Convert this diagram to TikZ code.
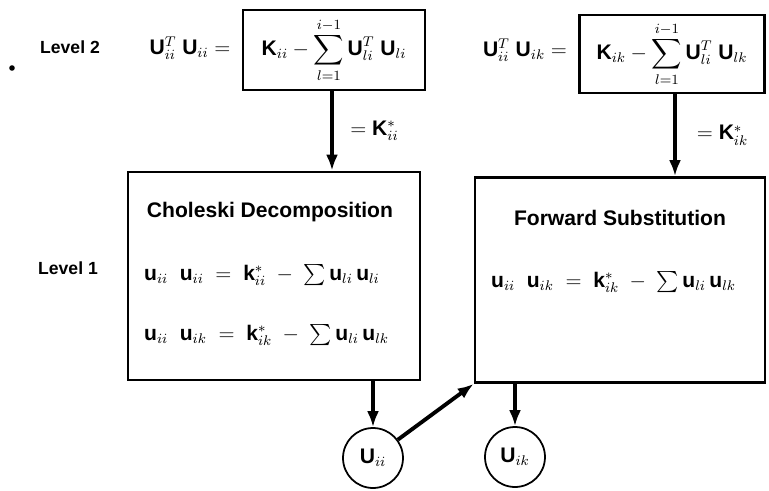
\documentclass[tikz,border=0pt]{standalone}
\usepackage{amsmath,amssymb}
\usepackage{fontspec}
\setmainfont{Liberation Sans}
\usepackage{tikz}
\usetikzlibrary{positioning,arrows.meta,calc}

\begin{document}
\begin{tikzpicture}[x=0.02cm,y=-0.02cm,font=\bfseries\large,
  blk/.style={draw,line width=1.6pt,inner sep=0pt},
  dbox/.style={draw,line width=1.4pt,inner sep=0pt},
  val/.style={draw,circle,line width=1pt,minimum size=1.2cm,inner sep=0pt},
  flow/.style={line width=2.2pt,-{Latex[length=3.2mm,width=2.4mm]}},
  lvl/.style={font=\bfseries}]
\useasboundingbox (0,0) rectangle (769,491);
% level 2
\fill (12,68) circle (2.8);
\node[lvl] (lv2) at (70,47) {Level 2};
\node (lhs1) at (190,48) {$\mathbf{U}^{T}_{ii}\;\mathbf{U}_{ii} =$};
\node[dbox,minimum width=3.64cm,minimum height=1.6cm] (k1) at (334,50)
  {$\mathbf{K}_{ii} - \displaystyle\sum_{l=1}^{i-1}\mathbf{U}^{T}_{li}\;\mathbf{U}_{li}$};
\node (lhs2) at (525,50) {$\mathbf{U}^{T}_{ii}\;\mathbf{U}_{ik} =$};
\node[dbox,minimum width=3.7cm,minimum height=1.56cm] (k2) at (672,54)
  {$\mathbf{K}_{ik} - \displaystyle\sum_{l=1}^{i-1}\mathbf{U}^{T}_{li}\;\mathbf{U}_{lk}$};
% level 1
\node[lvl] (lv1) at (68,268) {Level 1};
\node[blk,minimum width=5.84cm,minimum height=4.16cm] (chol) at (274,276) {};
\node (cholt) at (270,212) {Choleski Decomposition};
\node[anchor=west] (ch1) at (138,275) {$\mathbf{u}_{ii}\;\;\mathbf{u}_{ii} \;=\; \mathbf{k}^{*}_{ii} \;-\; \sum \mathbf{u}_{li}\,\mathbf{u}_{li}$};
\node[anchor=west] (ch2) at (138,335) {$\mathbf{u}_{ii}\;\;\mathbf{u}_{ik} \;=\; \mathbf{k}^{*}_{ik} \;-\; \sum \mathbf{u}_{li}\,\mathbf{u}_{lk}$};
\node[blk,minimum width=5.8cm,minimum height=4.1cm] (fwd) at (620,280) {};
\node (fwdt) at (620,218) {Forward Substitution};
\node[anchor=west] (fw1) at (485,282) {$\mathbf{u}_{ii}\;\;\mathbf{u}_{ik} \;=\; \mathbf{k}^{*}_{ik} \;-\; \sum \mathbf{u}_{li}\,\mathbf{u}_{lk}$};
\node[val] (u11) at (373,458) {$\mathbf{U}_{ii}$};
\node[val] (uik) at (515,457) {$\mathbf{U}_{ik}$};
% connectors
\draw[flow] (k1.south -| 332,0) -- (chol.north -| 332,0) node[midway,right=6pt] {$= \mathbf{K}^{*}_{ii}$};
\draw[flow] (k2.south -| 675,0) -- (fwd.north -| 675,0) node[midway,right=8pt] {$= \mathbf{K}^{*}_{ik}$};
\draw[flow] (chol.south -| u11.north) -- (u11.north);
\draw[flow] (fwd.south -| uik.north) -- (uik.north);
\draw[flow] (u11) -- (fwd.south west);
\end{tikzpicture}
\end{document}
